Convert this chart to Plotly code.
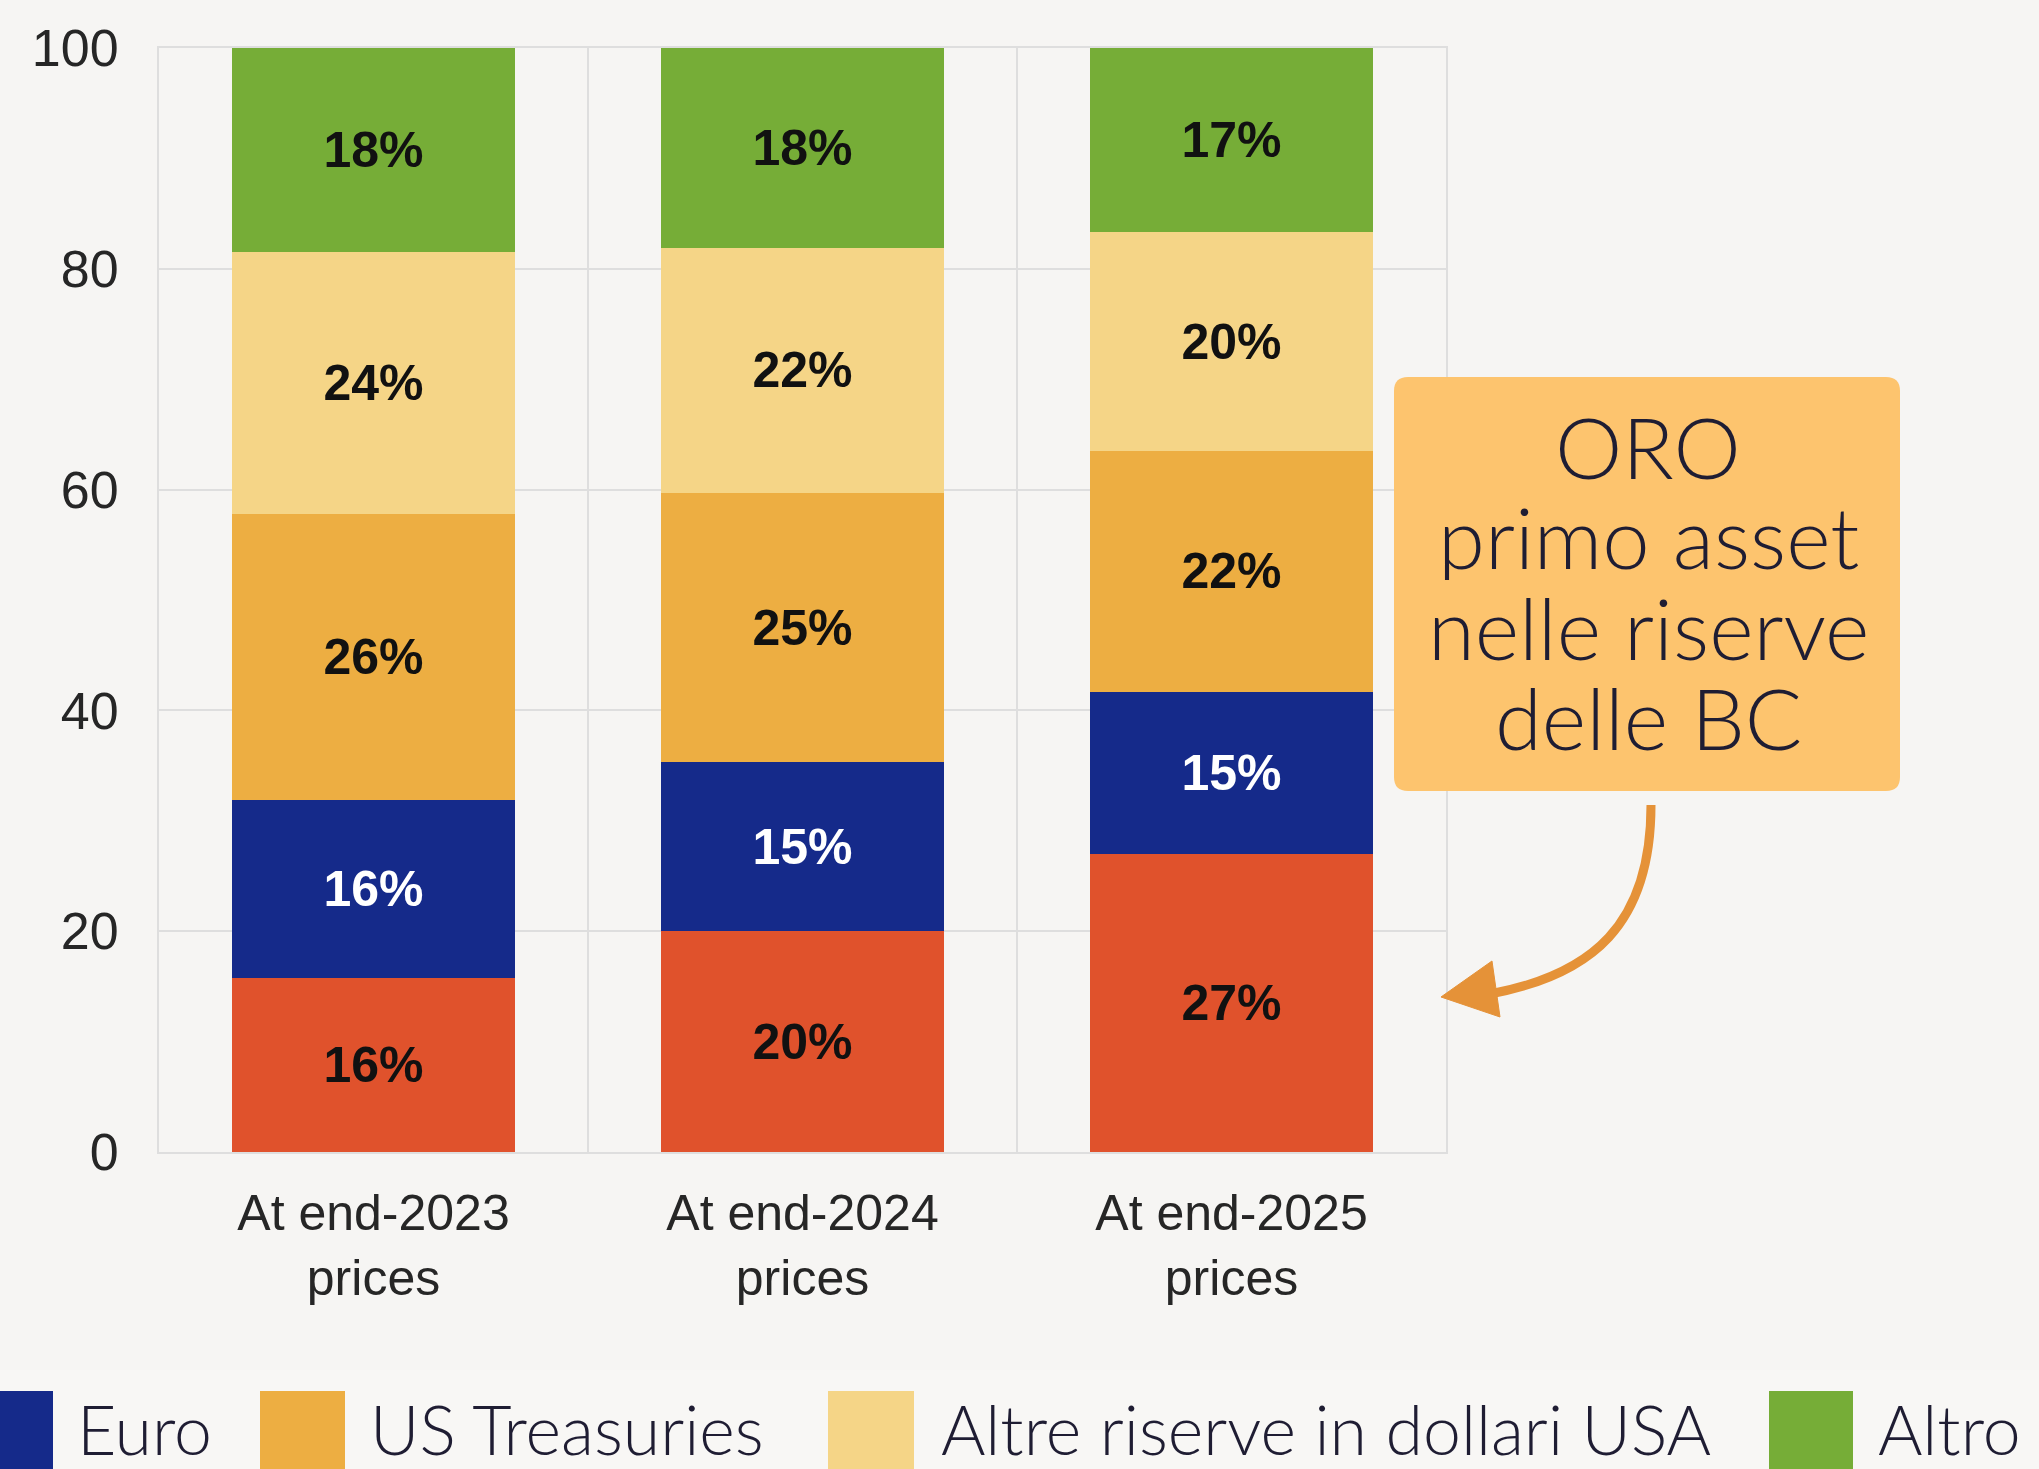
import plotly.graph_objects as go

# ---------------- data ----------------
categories = ["At end-2023<br>prices", "At end-2024<br>prices", "At end-2025<br>prices"]
oro = [15.8, 20.0, 27.0]
euro = [16.1, 15.3, 14.7]
us_treasuries = [25.9, 24.4, 21.8]
altre_usd = [23.7, 22.2, 19.8]
altro = [18.5, 18.1, 16.7]

labels_oro = ["16%", "20%", "27%"]
labels_euro = ["16%", "15%", "15%"]
labels_ust = ["26%", "25%", "22%"]
labels_altre = ["24%", "22%", "20%"]
labels_altro = ["18%", "18%", "17%"]

y_ticks = [0, 20, 40, 60, 80, 100]
legend_names = ["Euro", "US Treasuries", "Altre riserve in dollari USA", "Altro"]
callout_lines = ["ORO", "primo asset", "nelle riserve", "delle BC"]

# ---------------- style ----------------
C_ORO = "#e0522c"
C_EURO = "#152a8a"
C_UST = "#edae42"
C_ALTRE = "#f5d587"
C_ALTRO = "#76ad37"
BG = "#f6f5f3"
GRID = "#dedede"
DARK = "#1f1d33"

W, H = 2039, 1469
L, R, T, B = 159, 1446, 48, 1152


def px(x):
    return (x - L) / (R - L)


def py(y):
    return (B - y) / (B - T)


fig = go.Figure()
series = [
    (oro, labels_oro, C_ORO, "#111111", "Oro"),
    (euro, labels_euro, C_EURO, "#ffffff", "Euro"),
    (us_treasuries, labels_ust, C_UST, "#111111", "US Treasuries"),
    (altre_usd, labels_altre, C_ALTRE, "#111111", "Altre riserve in dollari USA"),
    (altro, labels_altro, C_ALTRO, "#111111", "Altro"),
]
for vals, labs, col, tcol, name in series:
    fig.add_trace(go.Bar(
        x=categories, y=vals, name=name, text=labs,
        textposition="inside", insidetextanchor="middle", textangle=0,
        textfont=dict(family="Liberation Sans", size=50, color=tcol, weight="bold"),
        marker=dict(color=col, line=dict(width=0)),
        showlegend=False, hoverinfo="skip",
    ))

fig.update_layout(
    width=W, height=H,
    barmode="stack", bargap=0.34,
    paper_bgcolor=BG, plot_bgcolor=BG,
    margin=dict(l=L, r=W - R, t=T, b=H - B, autoexpand=False),
    showlegend=False,
    font=dict(family="Liberation Sans", color="#262626"),
    xaxis=dict(
        showgrid=True, gridcolor=GRID, gridwidth=2, tickson="boundaries",
        ticks="", showline=True, linecolor=GRID, linewidth=2, mirror=True,
        tickfont=dict(family="Liberation Sans", size=50, color="#262626"),
        ticklabelstandoff=16,
    ),
    yaxis=dict(
        range=[0, 100], tickvals=y_ticks, showgrid=True, gridcolor=GRID,
        gridwidth=2, zeroline=False, showline=True, linecolor=GRID,
        linewidth=2, mirror=True, ticks="",
        tickfont=dict(family="Liberation Sans", size=52, color="#262626"),
        ticklabelstandoff=28,
    ),
)

shapes = []
annotations = []

# legend band
shapes.append(dict(type="rect", xref="paper", yref="paper",
                   x0=px(0), x1=px(W), y0=py(H), y1=py(1370),
                   fillcolor="#f8f7f5", line=dict(width=0), layer="below"))

# legend (manual, large swatches)
leg_colors = [C_EURO, C_UST, C_ALTRE, C_ALTRO]
sw_x = [(-32, 53), (260, 345), (828, 914), (1769, 1853)]
txt_x = [75, 368, 939, 1876]
for name, col, (a, b), tx in zip(legend_names, leg_colors, sw_x, txt_x):
    shapes.append(dict(type="rect", xref="paper", yref="paper",
                       x0=px(a), x1=px(b), y0=py(1476), y1=py(1391),
                       fillcolor=col, line=dict(width=0)))
    annotations.append(dict(xref="paper", yref="paper", x=px(tx), y=py(1428),
                            xanchor="left", yanchor="middle", showarrow=False,
                            text=name,
                            font=dict(family="Lato", size=68, color=DARK, weight=300)))

# callout box (rounded rectangle)
bx0, bx1, by0, by1, rad = 1394, 1900, 377, 791, 14


def pt(x, y):
    return f"{px(x):.5f},{py(y):.5f}"


path = (f"M{pt(bx0 + rad, by0)} L{pt(bx1 - rad, by0)} Q{pt(bx1, by0)} {pt(bx1, by0 + rad)} "
        f"L{pt(bx1, by1 - rad)} Q{pt(bx1, by1)} {pt(bx1 - rad, by1)} "
        f"L{pt(bx0 + rad, by1)} Q{pt(bx0, by1)} {pt(bx0, by1 - rad)} "
        f"L{pt(bx0, by0 + rad)} Q{pt(bx0, by0)} {pt(bx0 + rad, by0)} Z")
shapes.append(dict(type="path", xref="paper", yref="paper", path=path,
                   fillcolor="#fdc46e", line=dict(width=0)))

line_y = [446, 536, 627, 717]
for txt, yy in zip(callout_lines, line_y):
    annotations.append(dict(xref="paper", yref="paper", x=px(1648), y=py(yy),
                            xanchor="center", yanchor="middle", showarrow=False,
                            height=88, valign="middle", borderpad=0,
                            text=txt,
                            font=dict(family="Lato", size=85, color=DARK, weight=300)))

# curved arrow
arrow_col = "#e59238"
curve = f"M{pt(1651, 805)} C{pt(1651, 925)} {pt(1592, 975)} {pt(1490, 994)}"
shapes.append(dict(type="path", xref="paper", yref="paper", path=curve,
                   line=dict(color=arrow_col, width=9)))
head = f"M{pt(1441, 997)} L{pt(1492, 961)} L{pt(1500, 1017)} Z"
shapes.append(dict(type="path", xref="paper", yref="paper", path=head,
                   fillcolor=arrow_col, line=dict(color=arrow_col, width=1)))

fig.update_layout(shapes=shapes, annotations=annotations)
fig.write_html(
    "out.html",
    config={"displayModeBar": False},
    post_script="document.body.style.margin='0';document.body.style.overflow='hidden';",
)
